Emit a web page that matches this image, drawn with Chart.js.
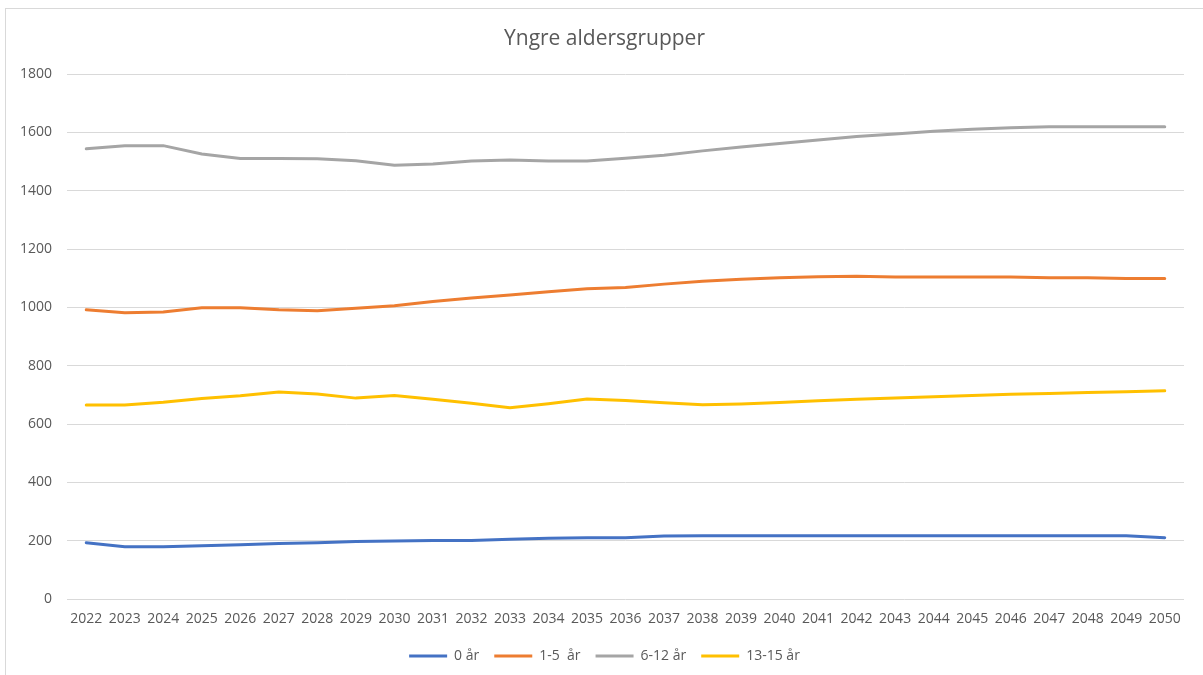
<!DOCTYPE html>
<html>
<head>
<meta charset="utf-8">
<script src="https://cdn.jsdelivr.net/npm/chart.js@4.4.1/dist/chart.umd.min.js"></script>
<style>
    body { margin: 0; background: #fff; overflow: hidden; }
    #frame {
        position: absolute; left: 5px; top: 8px;
        width: 1300px; height: 800px;
        border-left: 1px solid #d9d9d9; border-top: 1px solid #d9d9d9;
    }
    #box { position: absolute; left: 0; top: 0; width: 1197px; height: 680px; }
</style>
</head>
<body>
<div id="frame"><div id="box"><canvas id="myChart"></canvas></div></div>
<script>
const years = ['2022', '2023', '2024', '2025', '2026', '2027', '2028', '2029', '2030', '2031',
    '2032', '2033', '2034', '2035', '2036', '2037', '2038', '2039', '2040', '2041',
    '2042', '2043', '2044', '2045', '2046', '2047', '2048', '2049', '2050'];

const age0 = [193, 179, 179, 183, 186, 190, 193, 197, 199, 201, 201, 205, 208, 210,
    210, 216, 217, 217, 217, 217, 217, 217, 217, 217, 217, 217, 217, 217, 210];
const age1to5 = [992, 982, 984, 999, 999, 992, 989, 997, 1006, 1020, 1032, 1043, 1054, 1064,
    1068, 1080, 1090, 1097, 1102, 1105, 1107, 1104, 1104, 1104, 1104, 1102, 1102, 1099, 1099];
const age6to12 = [1544, 1555, 1555, 1526, 1511, 1511, 1510, 1503, 1488, 1492, 1502, 1506, 1502, 1502,
    1512, 1522, 1537, 1550, 1562, 1574, 1586, 1595, 1604, 1611, 1616, 1620, 1620, 1620, 1620];
const age13to15 = [665, 665, 675, 688, 697, 710, 703, 689, 698, 685, 671, 656, 670, 686,
    681, 673, 666, 669, 674, 680, 685, 689, 694, 698, 702, 705, 708, 711, 714];

const seriesNames = ['0 år', '1-5  år', '6-12 år', '13-15 år'];
const seriesColors = ['#4472C4', '#ED7D31', '#A5A5A5', '#FFC000'];
const yTicks = [0, 200, 400, 600, 800, 1000, 1200, 1400, 1600, 1800];

const textColor = '#595959';
const font = 'Open Sans';

function makeDataset(i, values) {
    return {
        label: seriesNames[i],
        data: values,
        borderColor: seriesColors[i],
        backgroundColor: seriesColors[i],
        borderWidth: 3,
        borderCapStyle: 'round',
        pointRadius: 0,
        tension: 0,
        fill: false
    };
}

function setupLineChart() {
    const ctx = document.getElementById('myChart');
    const data = {
        labels: years,
        datasets: [
            makeDataset(0, age0),
            makeDataset(1, age1to5),
            makeDataset(2, age6to12),
            makeDataset(3, age13to15)
        ]
    };
    const options = {
        responsive: true,
        maintainAspectRatio: false,
        animation: false,
        layout: { padding: { top: 0, left: 0, right: 0, bottom: 16 } },
        plugins: {
            title: {
                display: true,
                text: 'Yngre aldersgrupper',
                color: textColor,
                font: { family: font, size: 21, weight: 'normal', lineHeight: 1.2 },
                padding: { top: 17, bottom: 23 }
            },
            legend: {
                position: 'bottom',
                labels: {
                    usePointStyle: true,
                    pointStyle: 'line',
                    pointStyleWidth: 38,
                    padding: 15,
                    color: textColor,
                    font: { family: font, size: 14 }
                }
            },
            tooltip: { enabled: false }
        },
        scales: {
            x: {
                offset: true,
                grid: { display: false, drawTicks: false },
                border: { display: false },
                ticks: {
                    autoSkip: false, maxRotation: 0, padding: 12,
                    color: textColor, font: { family: font, size: 14 }
                },
                afterFit: function (s) { s.height = 35; }
            },
            y: {
                min: 0,
                max: 1800,
                grid: { color: '#d9d9d9', lineWidth: 1, drawTicks: false },
                border: { display: false },
                afterBuildTicks: function (s) { s.ticks = yTicks.map(v => ({ value: v })); },
                ticks: {
                    padding: 15,
                    color: textColor, font: { family: font, size: 14 },
                    callback: function (value) { return String(value); }
                },
                afterFit: function (s) { s.width = 61; }
            },
            // empty box on the right so the title centres like the original
            yRight: {
                position: 'right',
                grid: { display: false, drawTicks: false },
                border: { display: false },
                ticks: { display: false },
                afterFit: function (s) { s.width = 19; }
            }
        }
    };

    new Chart(ctx, { type: 'line', data: data, options: options });
}

setupLineChart();
</script>
</body>
</html>
